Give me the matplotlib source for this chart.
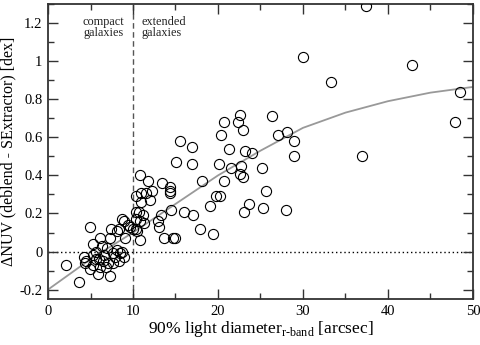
import matplotlib
matplotlib.use("Agg")
import matplotlib.pyplot as plt
from matplotlib.ticker import MultipleLocator

plt.rcParams['font.family'] = ['Liberation Serif', 'DejaVu Serif']
plt.rcParams['mathtext.fontset'] = 'custom'
plt.rcParams['mathtext.rm'] = 'Liberation Serif'

# scatter data: (diameter [arcsec], delta NUV [dex])
diam = [2.1, 3.7, 4.2, 4.5, 4.9, 4.9, 5.3, 5.3, 5.3, 5.7, 5.9, 6.0, 6.1, 6.1,
        6.3, 6.5, 6.8, 6.9, 7.1, 7.3, 7.3, 7.4, 7.6, 7.7, 8.1, 8.1, 8.4, 8.4,
        8.5, 8.7, 8.7, 8.9, 9.1, 9.0, 9.4, 9.6, 10.0, 10.5, 10.4,
        10.8, 11.8, 10.3, 10.9, 11.5, 12.2, 11.0, 12.0, 10.7, 11.2, 10.4, 10.8,
        11.3, 10.3, 10.8, 13.4, 14.3, 14.3, 14.3, 13.0, 13.1, 13.6, 14.7, 14.9,
        14.5, 13.3, 15.5, 17.0, 15.1, 17.0, 18.1, 16.0, 17.1, 19.1, 17.9, 19.4,
        19.8, 20.1, 20.7, 21.5, 22.6, 22.9, 21.3, 20.4, 20.7, 22.4, 22.6, 22.9,
        26.3, 27.1, 28.1, 29.0, 23.2, 24.0, 29.0, 22.7, 25.2, 25.6, 23.6, 23.1,
        25.3, 28.0, 37.0, 30.0, 33.3, 37.4, 42.8, 48.5, 47.9, 20.2,
        5.6, 6.6, 7.9, 4.4]
dnuv = [-0.07, -0.16, -0.03, -0.05, 0.13, -0.09, 0.04, -0.02, -0.07, 0.00, -0.12,
        -0.04, 0.07, -0.08, 0.03, -0.05, -0.08, 0.02, -0.06, 0.07, -0.13, 0.12,
        -0.01, -0.06, 0.11, 0.01, 0.12, -0.05, -0.01, 0.00, 0.17, 0.16, 0.07,
        -0.03, 0.14, 0.13, 0.12, 0.11, 0.21,
        0.40, 0.37, 0.29, 0.31, 0.31, 0.32, 0.26, 0.27, 0.21, 0.19, 0.17, 0.16,
        0.15, 0.12, 0.06, 0.36, 0.34, 0.32, 0.31, 0.16, 0.13, 0.07, 0.07, 0.07,
        0.22, 0.19, 0.58, 0.55, 0.47, 0.46, 0.37, 0.21, 0.19, 0.24, 0.12, 0.09,
        0.29, 0.46, 0.37, 0.44, 0.41, 0.39, 0.54, 0.61, 0.68, 0.68, 0.72, 0.64,
        0.71, 0.61, 0.63, 0.58, 0.53, 0.52, 0.50, 0.45, 0.44, 0.32, 0.25, 0.21,
        0.23, 0.22, 0.50, 1.02, 0.89, 1.29, 0.98, 0.84, 0.68, 0.29,
        -0.04, -0.02, -0.03, -0.06]

# trend curve
curve_x = [0, 5, 10, 15, 20, 25, 30, 35, 40, 45, 50]
curve_y = [-0.20, -0.04, 0.10, 0.25, 0.40, 0.53, 0.65, 0.73, 0.79, 0.835, 0.865]

fig = plt.figure(figsize=(4.81, 3.45), dpi=100)
ax = fig.add_axes([0.0998, 0.133, 0.8835, 0.855])

ax.plot(curve_x, curve_y, color='#999999', lw=1.3, zorder=2)
ax.plot(diam, dnuv, linestyle='none', marker='o', ms=7.3, mfc='none',
        mec='black', mew=0.8, zorder=3)
ax.axvline(10, color='#555555', lw=1.0, ls=(0, (4, 2.5)), zorder=1)
ax.axhline(0, color='black', lw=1.0, ls=(0, (1, 2)), zorder=1)

ax.set_xlim(0, 50)
ax.set_ylim(-0.25, 1.3)
ax.xaxis.set_major_locator(MultipleLocator(10))
ax.xaxis.set_minor_locator(MultipleLocator(5))
ax.yaxis.set_minor_locator(MultipleLocator(0.1))
ax.set_yticks([-0.2, 0, 0.2, 0.4, 0.6, 0.8, 1.0, 1.2])
ax.set_yticklabels(['-0.2', '0', '0.2', '0.4', '0.6', '0.8', '1', '1.2'])
ax.tick_params(which='both', direction='in', top=True, right=True,
               labelsize=10.5, color='#333333', pad=4)
ax.tick_params(which='major', length=7, width=1)
ax.tick_params(which='minor', length=4, width=1)
for s in ax.spines.values():
    s.set_linewidth(1.3)
    s.set_color('#333333')

ax.set_xlabel('90% light diameter$_{\\mathrm{r}\\text{-}\\mathrm{band}}$ [arcsec]',
              fontsize=12.5, labelpad=1)
ax.set_ylabel('\u0394NUV (deblend - SExtractor) [dex]', fontsize=11.5, labelpad=2)

ax.text(6.5, 1.238, 'compact\ngalaxies', ha='center', va='top', fontsize=8.8,
        linespacing=0.95, color='#222222')
ax.text(11.0, 1.238, 'extended\ngalaxies', ha='left', va='top', fontsize=8.8,
        linespacing=0.95, color='#222222')

fig.savefig('out.png', dpi=100)
